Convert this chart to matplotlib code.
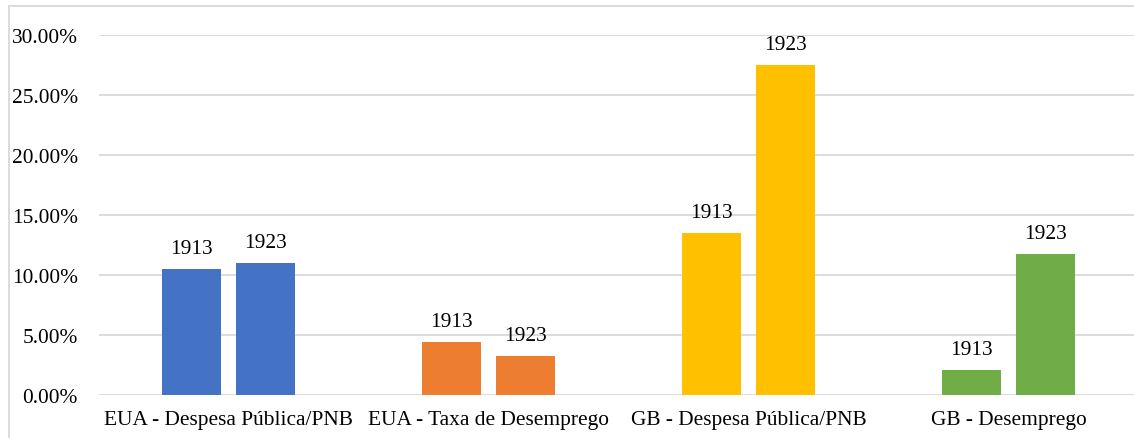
import matplotlib.pyplot as plt
from matplotlib.lines import Line2D
from matplotlib.ticker import FuncFormatter
import numpy as np

categories = ["EUA - Despesa Pública/PNB", "EUA - Taxa de Desemprego",
              "GB - Despesa Pública/PNB", "GB - Desemprego"]
years = ["1913", "1923"]
values_1913 = [10.5, 4.45, 13.5, 2.1]
values_1923 = [11.0, 3.25, 27.5, 11.75]
colors = ["#4472C4", "#ED7D31", "#FFC000", "#70AD47"]

plt.rcParams['font.family'] = ['Liberation Serif', 'DejaVu Serif']
FS = 15.4

W, H = 1134, 439
fig = plt.figure(figsize=(W / 100, H / 100), dpi=100)

# axes spans x 98.5 -> 1138.5 px (right end cut off), y 36 -> 396 px
ax = fig.add_axes([98.5 / W, 1 - 396 / H, 1040 / W, 360 / H])

x = np.arange(len(categories))
bw = 0.227
off = 0.142
for vals, dx, yr in [(values_1913, -off, years[0]), (values_1923, off, years[1])]:
    bars = ax.bar(x + dx, vals, width=bw, color=colors, zorder=3)
    for b in bars:
        ax.annotate(yr, (b.get_x() + b.get_width() / 2, b.get_height()),
                    xytext=(0, 11.5), textcoords="offset points",
                    ha="center", va="baseline", fontsize=FS, color="#000000")

ax.set_xlim(-0.5, 3.5)
ax.set_ylim(0, 30)
ax.set_yticks(np.arange(0, 31, 5))
ax.yaxis.set_major_formatter(FuncFormatter(lambda v, p: f"{v:.2f}%"))
ax.set_xticks(x)
ax.set_xticklabels(categories)
ax.tick_params(axis="both", length=0, labelsize=FS, colors="#000000")
ax.tick_params(axis="y", pad=15)
ax.tick_params(axis="x", pad=10.5)
ax.grid(axis="y", color="#d9d9d9", linewidth=1.3, zorder=0)
for s in ax.spines.values():
    s.set_visible(False)

# outer chart frame (left and top edges visible)
fig.add_artist(Line2D([9 / W, 9 / W], [0, 1 - 7 / H], transform=fig.transFigure,
                      color="#d9d9d9", linewidth=1.3))
fig.add_artist(Line2D([9 / W, 1], [1 - 7 / H, 1 - 7 / H], transform=fig.transFigure,
                      color="#d9d9d9", linewidth=1.3))

fig.savefig("out.png", dpi=100)
